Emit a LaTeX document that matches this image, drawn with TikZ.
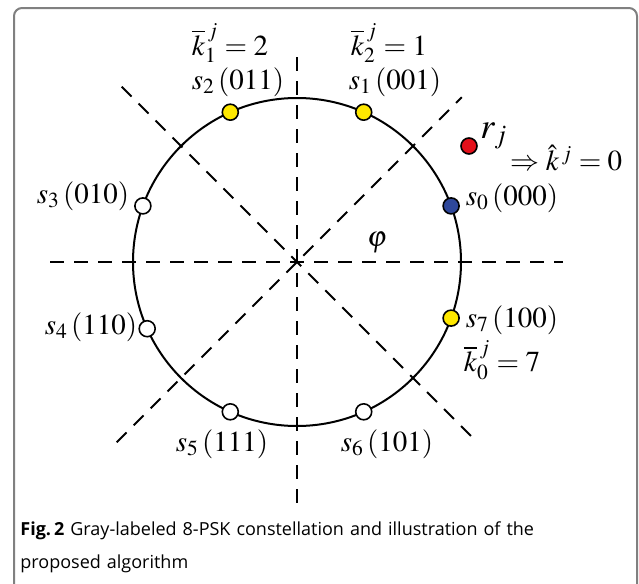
\documentclass[tikz,border=0pt]{standalone}
\usepackage{mathptmx}
\usepackage{fontspec}
\setsansfont{Open Sans}
\usepackage{tikz}
\usetikzlibrary{calc}
\definecolor{moldura}{HTML}{808080}
\definecolor{amarelo}{HTML}{FFE800}
\definecolor{azul}{HTML}{2E479A}
\definecolor{vermelho}{HTML}{E3101A}
\definecolor{branco}{HTML}{FFFFFF}

\begin{document}
\begin{tikzpicture}[x=0.5pt,y=-0.5pt, pt/.style={circle, draw=black, line width=0.8pt, inner sep=0pt, minimum size=8pt},
  lbl/.style={font=\fontsize{14.5}{17}\selectfont, inner sep=0pt},
  eixo/.style={dash pattern=on 7pt off 5pt, line width=0.9pt}]
  \useasboundingbox (0,0) rectangle (639,584);
  \draw[moldura, line width=1pt, rounded corners=4pt] (14,600) -- (14,8) -- (637,8) -- (637,600);
  \coordinate (o) at (297,262);
  \coordinate (h0) at (50,262); \coordinate (h1) at (563,262);
  \coordinate (v0) at (297,57); \coordinate (v1) at (297,508);
  \coordinate (d0) at ($(o)+(135:255)$); \coordinate (d1) at ($(o)+(-45:233)$);
  \coordinate (e0) at ($(o)+(45:250)$); \coordinate (e1) at ($(o)+(-135:248)$);
  \foreach \a/\b in {h0/h1,v0/v1,d0/d1,e1/e0}{\draw[eixo] (\a) -- (\b);}
  \draw[line width=1pt] (o) circle[radius=164];
  \foreach \n/\a/\c in {0/20/azul,1/66/amarelo,2/114/amarelo,3/160/branco,4/204/branco,5/246/branco,6/294/branco,7/340/amarelo}{
    \node[pt, fill=\c] (s\n) at ($(o)+(-\a:164)$) {};}
  \node[pt, fill=vermelho] (r) at (469,146) {};
  \node[lbl] (l0) at (512,198) {$s_0\,(000)$};
  \node[lbl] (l1) at (395,82) {$s_1\,(001)$};
  \node[lbl] (l2) at (238,82) {$s_2\,(011)$};
  \node[lbl] (l3) at (83,196) {$s_3\,(010)$};
  \node[lbl] (l4) at (91,327) {$s_4\,(110)$};
  \node[lbl] (l5) at (222,444) {$s_5\,(111)$};
  \node[lbl] (l6) at (387,444) {$s_6\,(101)$};
  \node[lbl] (l7) at (512,320) {$s_7\,(100)$};
  \node[lbl] (k1) at (230,43) {$\overline{k}_1^{\,j}=2$};
  \node[lbl] (k2) at (389,43) {$\overline{k}_2^{\,j}=1$};
  \node[lbl] (k0) at (502,360) {$\overline{k}_0^{\,j}=7$};
  \node[lbl, font=\fontsize{18}{20}\selectfont] (rj) at (494,136) {$r_j$};
  \node[lbl, anchor=west] (kh) at (510,158) {$\Rightarrow\hat{k}^{\,j}=0$};
  \node[lbl] (phi) at (377,243) {$\varphi$};
  \node[anchor=north west, inner sep=0pt, text width=290pt, align=left, font=\sffamily\fontsize{9}{16.5}\selectfont] (cap) at (20,521)
    {\textbf{Fig.\,2} Gray-labeled 8-PSK constellation and illustration of the\\ proposed algorithm};
\end{tikzpicture}
\end{document}
